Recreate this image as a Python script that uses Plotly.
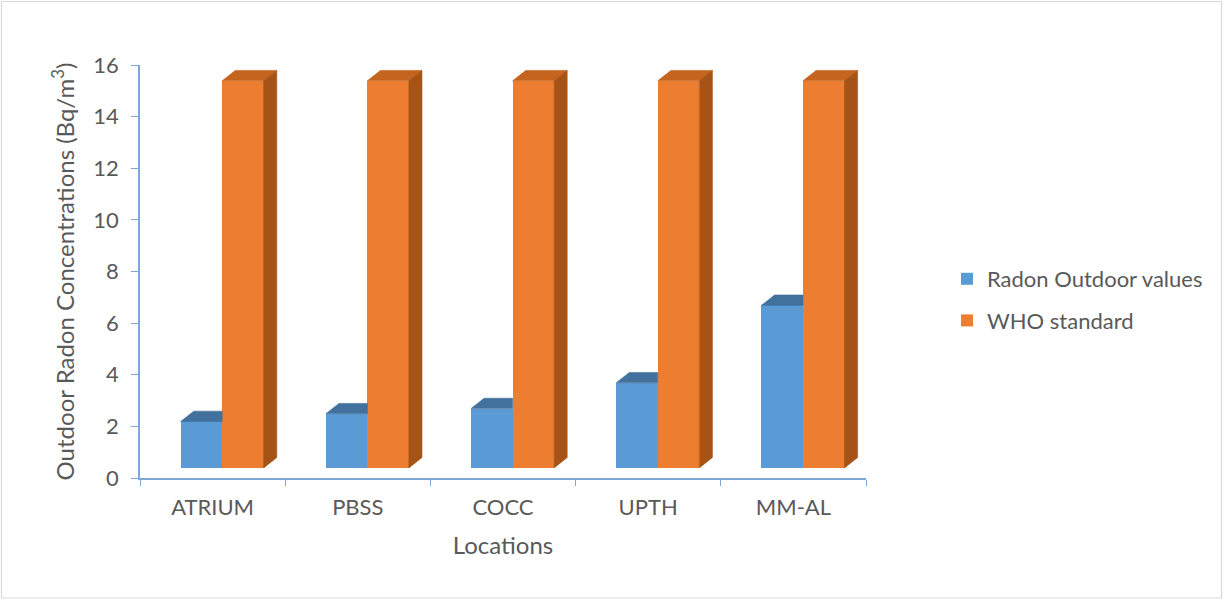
import plotly.graph_objects as go

# Data
locations = ["ATRIUM", "PBSS", "COCC", "UPTH", "MM-AL"]
radon_outdoor = [1.8, 2.1, 2.3, 3.3, 6.3]
who_standard = [15, 15, 15, 15, 15]
y_ticks = [0, 2, 4, 6, 8, 10, 12, 14, 16]

# Page and plot-area geometry (pixels)
W, H = 1224, 600
ML, MR, MT, MB = 140, 358, 65, 122

# Pseudo-3D column geometry (axis units)
BAR_W = 0.286     # width of one column front face
SHIFT = 0.066     # pair offset from the category centre (floor perspective)
LIFT = 0.39       # columns stand on a floor set back from the axis plane
DX, DY = 0.09, 0.40  # depth offset of the back edges

BLUE, BLUE_TOP = "#5B9BD5", "#41719C"
ORANGE, ORANGE_TOP, ORANGE_SIDE = "#ED7D31", "#C4641F", "#A65317"
AXIS = "#7EA6D6"
TEXT = "#595959"
FONT = "Lato"

centers = [i + 0.5 for i in range(len(locations))]
x_blue = [c + SHIFT - BAR_W / 2 for c in centers]
x_orange = [c + SHIFT + BAR_W / 2 for c in centers]


def polys(point_lists):
    xs, ys = [], []
    for pts in point_lists:
        for (px, py) in pts + [pts[0]]:
            xs.append(px)
            ys.append(py)
        xs.append(None)
        ys.append(None)
    return xs, ys


# Blue top faces: the part right of the front edge is hidden behind the orange column
blue_tops = []
for xc, v in zip(x_blue, radon_outdoor):
    x0, x1, yt = xc - BAR_W / 2, xc + BAR_W / 2, LIFT + v
    blue_tops.append([(x0, yt), (x1, yt), (x1, yt + DY), (x0 + DX, yt + DY)])

orange_tops, orange_sides = [], []
for xc, v in zip(x_orange, who_standard):
    x0, x1, yt = xc - BAR_W / 2, xc + BAR_W / 2, LIFT + v
    orange_tops.append([(x0, yt), (x1, yt), (x1 + DX, yt + DY), (x0 + DX, yt + DY)])
    orange_sides.append([(x1, LIFT), (x1 + DX, LIFT + DY), (x1 + DX, yt + DY), (x1, yt)])

fig = go.Figure()

fig.add_trace(go.Bar(
    x=x_blue, y=radon_outdoor, base=LIFT, width=BAR_W,
    marker=dict(color=BLUE, line=dict(width=0)),
    name="Radon Outdoor values", legendgroup="a",
    customdata=locations,
    hovertemplate="%{customdata}: %{y}<extra>Radon Outdoor values</extra>",
))
fig.add_trace(go.Bar(
    x=x_orange, y=who_standard, base=LIFT, width=BAR_W,
    marker=dict(color=ORANGE, line=dict(width=0)),
    name="WHO standard", legendgroup="b",
    customdata=locations,
    hovertemplate="%{customdata}: %{y}<extra>WHO standard</extra>",
))

for pts, col in [(blue_tops, BLUE_TOP), (orange_tops, ORANGE_TOP), (orange_sides, ORANGE_SIDE)]:
    xs, ys = polys(pts)
    fig.add_trace(go.Scatter(
        x=xs, y=ys, mode="lines", fill="toself", fillcolor=col,
        line=dict(color=col, width=0.6), showlegend=False, hoverinfo="skip",
    ))

# Outer chart border, converted from page pixels to paper coordinates
pw, ph = W - ML - MR, H - MT - MB


def px_to_paper_x(px):
    return (px - ML) / pw


def px_to_paper_y(py):
    return (H - MB - py) / ph


fig.add_shape(
    type="rect", xref="paper", yref="paper", layer="below",
    x0=px_to_paper_x(1.5), x1=px_to_paper_x(W - 2.5),
    y0=px_to_paper_y(H - 2), y1=px_to_paper_y(1.5),
    line=dict(color="#D9D9D9", width=1.2), fillcolor="rgba(0,0,0,0)",
)

fig.update_layout(
    width=W, height=H,
    margin=dict(l=ML, r=MR, t=MT, b=MB, autoexpand=False),
    paper_bgcolor="white", plot_bgcolor="white",
    barmode="overlay", bargap=0,
    font=dict(family=FONT, color=TEXT, size=22),
    showlegend=True,
    legend=dict(
        x=px_to_paper_x(947), xanchor="left",
        y=px_to_paper_y(258), yanchor="top",
        font=dict(family=FONT, size=22, color=TEXT),
        traceorder="grouped", tracegroupgap=10,
        bgcolor="rgba(0,0,0,0)",
    ),
    xaxis=dict(
        range=[0, len(locations)], showgrid=False, zeroline=False,
        showline=True, linecolor=AXIS, linewidth=1.5,
        tickmode="array", tickvals=centers, ticktext=locations,
        ticks="", ticklabelstandoff=9,
        tickfont=dict(family=FONT, size=22, color=TEXT),
        minor=dict(tickmode="array", tickvals=list(range(len(locations) + 1)),
                   ticks="outside", ticklen=6, tickcolor=AXIS, tickwidth=1),
        title=dict(text="Locations", standoff=18,
                   font=dict(family=FONT, size=24, color=TEXT)),
        fixedrange=True,
    ),
    yaxis=dict(
        range=[0, 16], showgrid=False, zeroline=False,
        showline=True, linecolor=AXIS, linewidth=1.5,
        tickmode="array", tickvals=y_ticks,
        ticks="outside", ticklen=7, tickcolor=AXIS, tickwidth=1,
        ticklabelstandoff=8,
        tickfont=dict(family=FONT, size=22, color=TEXT),
        title=dict(text="Outdoor Radon Concentrations (Bq/m<sup>3</sup>)", standoff=12,
                   font=dict(family=FONT, size=24, color=TEXT)),
        fixedrange=True,
    ),
)

fig.write_html("out.html")
